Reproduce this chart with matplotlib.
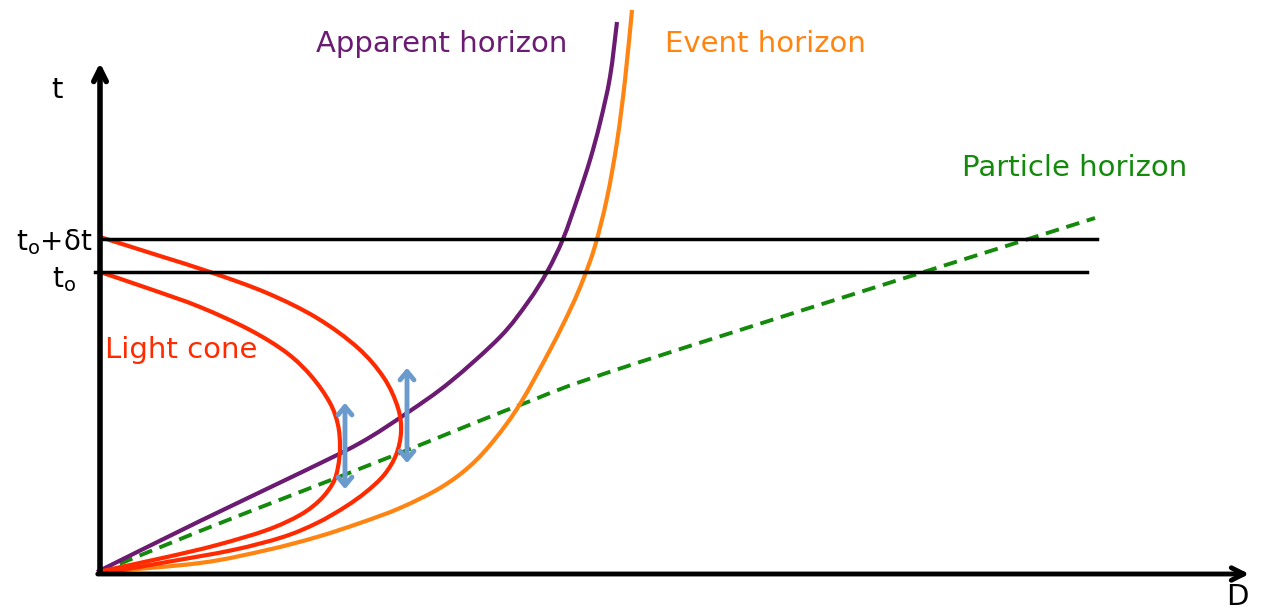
import matplotlib
matplotlib.use("Agg")
import matplotlib.pyplot as plt
from matplotlib.path import Path
from matplotlib.patches import PathPatch
import numpy as np

# Coordinates: D (distance) to the right, t (time) upward, origin at the axes corner
apparent_D = [-3, 100, 200, 260, 307, 350, 400, 428, 447, 463, 478, 490, 500, 510, 517]
apparent_t = [0, 51, 99, 129, 159, 190, 235, 270, 300, 333, 375, 412, 449, 495, 550]

event_D = [0, 100, 167, 217, 260, 300, 340, 370, 395, 420, 450, 470, 483, 495, 507, 517, 525, 532]
event_t = [0, 9, 22, 35, 49, 64, 84, 106, 133, 168, 222, 262, 292, 326, 374, 430, 492, 562]

particle_D = [0, 100, 200, 300, 420, 540, 995]
particle_t = [0, 41, 80, 119, 167, 210, 354]

cone_inner_D = [0, 50, 100, 150, 187, 212, 230, 238, 240, 238, 233, 220, 200, 167, 117, 67, 7, 0]
cone_inner_t = [300, 283, 265, 242, 219, 195, 169, 147, 125, 105, 89, 72, 57, 42, 27, 15, 2, 0]

cone_outer_D = [0, 60, 110, 167, 217, 258, 284, 298, 301, 296, 284, 266, 245, 217, 183, 133, 67, 10]
cone_outer_t = [335, 316, 300, 279, 254, 224, 194, 164, 140, 117, 97, 80, 65, 49, 35, 22, 10, 0]

t0 = 300
t0_dt = 333
line_t0_D = [-5, 987]
line_t0dt_D = [0, 997]

arrow_D = [245, 307]
arrow_bottom = [80, 106]
arrow_top = [172, 207]


def smooth_path(xs, ys):
    """Catmull-Rom curve through the points, drawn as cubic Bezier segments."""
    p = np.column_stack([xs, ys]).astype(float)
    ext = np.vstack([p[0], p, p[-1]])
    verts = [p[0]]
    codes = [Path.MOVETO]
    for i in range(1, len(ext) - 2):
        p0, p1, p2, p3 = ext[i - 1], ext[i], ext[i + 1], ext[i + 2]
        c1 = p1 + (p2 - p0) / 6.0
        c2 = p2 - (p3 - p1) / 6.0
        verts += [c1, c2, p2]
        codes += [Path.CURVE4] * 3
    return Path(verts, codes)


fig = plt.figure(figsize=(12.68, 6.09), dpi=100)
ax = fig.add_axes([0, 0, 1, 1])
ax.set_xlim(-100, 1168)
ax.set_ylim(-37, 572)
ax.axis("off")

purple = "#6b1b72"
orange = "#ff8412"
red = "#ff2a00"
green = "#138a0b"
blue = "#6b9bcd"

# axes arrows
ax.annotate("", xy=(1152, -2), xytext=(-5, -2),
            arrowprops=dict(arrowstyle="->,head_length=0.9,head_width=0.45", lw=3.5, color="black"))
ax.annotate("", xy=(0, 512), xytext=(0, -3),
            arrowprops=dict(arrowstyle="->,head_length=0.9,head_width=0.45", lw=4, color="black"))

# horizontal time lines
ax.plot(line_t0dt_D, [t0_dt, t0_dt], color="black", lw=2.5)
ax.plot(line_t0_D, [t0, t0], color="black", lw=2.5)

ax.add_patch(PathPatch(smooth_path(particle_D, particle_t), fill=False, edgecolor=green,
                       lw=2.8, ls=(0, (3.5, 2))))
ax.add_patch(PathPatch(smooth_path(event_D, event_t), fill=False, edgecolor=orange, lw=3))
ax.add_patch(PathPatch(smooth_path(apparent_D, apparent_t), fill=False, edgecolor=purple, lw=3))
ax.add_patch(PathPatch(smooth_path(cone_inner_D, cone_inner_t), fill=False, edgecolor=red, lw=3))
ax.add_patch(PathPatch(smooth_path(cone_outer_D, cone_outer_t), fill=False, edgecolor=red, lw=3))

for d, b, tp in zip(arrow_D, arrow_bottom, arrow_top):
    ax.annotate("", xy=(d, tp), xytext=(d, b),
                arrowprops=dict(arrowstyle="<->,head_length=0.6,head_width=0.5", lw=3.5, color=blue))

fs = 21
ax.text(216, 528, "Apparent horizon", color=purple, fontsize=fs, va="center", ha="left")
ax.text(565, 528, "Event horizon", color=orange, fontsize=fs, va="center", ha="left")
ax.text(862, 404, "Particle horizon", color=green, fontsize=fs, va="center", ha="left")
ax.text(5, 222, "Light cone", color=red, fontsize=fs, va="center", ha="left")
ax.text(-43, 482, "t", color="black", fontsize=fs, va="center", ha="center")
ax.text(-8, 330, r"t$_\mathregular{o}$+δt", color="black", fontsize=fs - 1, va="center", ha="right")
ax.text(-48, 292, r"t$_\mathregular{o}$", color="black", fontsize=fs - 1, va="center", ha="left")
ax.text(1137, -25, "D", color="black", fontsize=fs, va="center", ha="center")

fig.savefig("out.png", dpi=100)
